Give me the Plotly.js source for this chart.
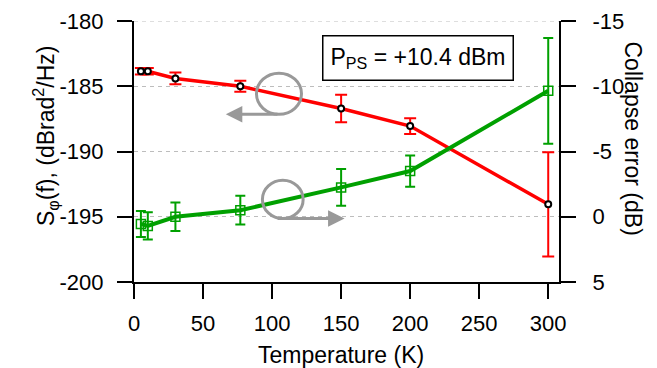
<!DOCTYPE html>
<html><head><meta charset="utf-8">
<script src="https://cdn.plot.ly/plotly-3.0.1.min.js"></script>
<style>html,body{margin:0;padding:0;background:#fff}#c{width:657px;height:368px}</style>
</head><body><div id="c"></div>
<script>
// Temperature (K)
const temps = [5, 10, 30, 77, 150, 200, 300];
// Phase noise S_phi(f) (dBrad^2/Hz), left axis
const noiseVals = [-183.85, -183.85, -184.4, -185.0, -186.7, -188.05, -194.05];
const noiseErr  = [0.25, 0.25, 0.45, 0.43, 1.05, 0.6, 4.0];
// Collapse error (dB), right axis (reversed)
const collapseVals = [0.55, 0.7, 0.0, -0.5, -2.25, -3.5, -9.65];
const collapseErr  = [1.0, 1.05, 1.1, 1.1, 1.4, 1.2, 4.05];
const xTicks = [0, 50, 100, 150, 200, 250, 300];
const yTicks = [-200, -195, -190, -185, -180];
const yTickText = ['-200', '-195', '-190', '-185', '-180'];
const y2Ticks = [-15, -10, -5, 0, 5];
const y2TickText = ['-15', '-10', '-5', '0', '5'];

const FONT = 'Liberation Sans, Arial, sans-serif';

const red = {
  x: temps, y: noiseVals, type: 'scatter', mode: 'lines+markers', yaxis: 'y',
  line: {color: '#ff0000', width: 3.5},
  marker: {symbol: 'circle', size: 6, color: '#ffffff', line: {color: '#000000', width: 2}},
  error_y: {type: 'data', array: noiseErr, visible: true, color: '#ff0000', thickness: 2, width: 6},
  cliponaxis: false
};
const green = {
  x: temps, y: collapseVals, type: 'scatter', mode: 'lines+markers', yaxis: 'y2',
  line: {color: '#00a000', width: 4},
  marker: {symbol: 'square-open', size: 9, color: '#00a000', line: {color: '#00a000', width: 1.5}},
  error_y: {type: 'data', array: collapseErr, visible: true, color: '#00a000', thickness: 2, width: 5},
  cliponaxis: false
};

const axCommon = {
  showline: true, linecolor: '#000', linewidth: 2,
  ticks: 'outside', ticklen: 15, tickwidth: 2, tickcolor: '#000',
  tickfont: {family: FONT, size: 22, color: '#000'},
  zeroline: false
};

const layout = {
  width: 657, height: 368,
  margin: {l: 134, r: 98, t: 21, b: 86},
  paper_bgcolor: '#fff', plot_bgcolor: '#fff',
  showlegend: false,
  font: {family: FONT, color: '#000'},
  xaxis: Object.assign({}, axCommon, {
    range: [0, 307.8], tickvals: xTicks, showgrid: false, ticklabelstandoff: 6
  }),
  yaxis: Object.assign({}, axCommon, {
    range: [-200, -180], tickvals: yTicks, ticktext: yTickText, showgrid: true,
    gridcolor: '#bdbdbd', gridwidth: 1, griddash: '4px,4px', ticklabelstandoff: 9
  }),
  yaxis2: Object.assign({}, axCommon, {
    overlaying: 'y', side: 'right', range: [5, -15], tickvals: y2Ticks, ticktext: y2TickText,
    showgrid: false, ticklabelstandoff: 12
  }),
  shapes: [
    {type: 'line', xref: 'paper', yref: 'y', x0: 0, x1: 1, y0: -180, y1: -180, layer: 'below',
     line: {color: '#bdbdbd', width: 1, dash: '4px,4px'}},
    {type: 'circle', xref: 'x', yref: 'y', x0: 88.7, x1: 121.3, y0: -187.15, y1: -184.0,
     line: {color: '#999', width: 3}, fillcolor: 'rgba(0,0,0,0)'},
    {type: 'circle', xref: 'x', yref: 'y', x0: 93.0, x1: 122.5, y0: -195.14, y1: -192.2,
     line: {color: '#999', width: 3}, fillcolor: 'rgba(0,0,0,0)'}
  ],
  annotations: [
    {xref: 'x', yref: 'y', axref: 'x', ayref: 'y', x: 66.5, y: -187.15, ax: 105, ay: -187.15,
     text: '', showarrow: true, arrowhead: 2, arrowsize: 1.1, arrowwidth: 3, arrowcolor: '#999'},
    {xref: 'x', yref: 'y', axref: 'x', ayref: 'y', x: 152.5, y: -195.14, ax: 103, ay: -195.14,
     text: '', showarrow: true, arrowhead: 2, arrowsize: 1.1, arrowwidth: 3, arrowcolor: '#999'},
    {xref: 'paper', yref: 'paper', x: 0.668, y: 0.859, xanchor: 'center', yanchor: 'middle',
     text: 'P<sub>PS</sub> = +10.4 dBm', showarrow: false,
     font: {family: FONT, size: 23, color: '#000'},
     bordercolor: '#000', borderwidth: 1.5, borderpad: 7, bgcolor: '#fff'},
    {xref: 'paper', yref: 'paper', x: 0.487, y: -0.279, xanchor: 'center', yanchor: 'middle',
     text: 'Temperature (K)', showarrow: false, font: {family: FONT, size: 23, color: '#000'}},
    {xref: 'paper', yref: 'paper', x: -0.209, y: 0.56, xanchor: 'center', yanchor: 'middle',
     text: 'S<sub>φ</sub>(f), (dBrad<sup>2</sup>/Hz)', textangle: -90, showarrow: false,
     font: {family: FONT, size: 23, color: '#000'}},
    {xref: 'paper', yref: 'paper', x: 1.174, y: 0.55, xanchor: 'center', yanchor: 'middle',
     text: 'Collapse error (dB)', textangle: 90, showarrow: false,
     font: {family: FONT, size: 23, color: '#000'}}
  ]
};

Plotly.newPlot('c', [red, green], layout, {staticPlot: true, displayModeBar: false});
</script>
</body></html>
